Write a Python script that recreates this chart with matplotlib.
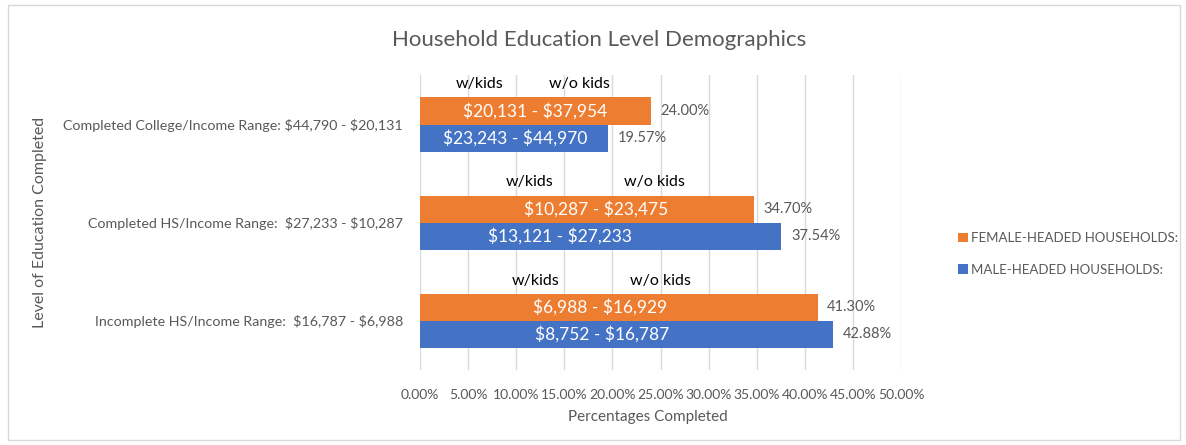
import matplotlib.pyplot as plt
import matplotlib.patches as patches
import numpy as np

plt.rcParams['font.family'] = ['Lato', 'DejaVu Sans']
plt.rcParams['text.parse_math'] = False

# categories listed bottom to top
categories = [
    "Incomplete HS/Income Range:  $16,787 - $6,988",
    "Completed HS/Income Range:  $27,233 - $10,287",
    "Completed College/Income Range: $44,790 - $20,131",
]
female_pct = [41.30, 34.70, 24.00]
male_pct = [42.88, 37.54, 19.57]

# income notes written over the bars
female_notes = ["$6,988 - $16,929", "$10,287 - $23,475", "$20,131 - $37,954"]
male_notes = ["$8,752 - $16,787", "$13,121 - $27,233", "$23,243 - $44,970"]
female_note_x = [18.7, 18.3, 12.0]
male_note_x = [18.9, 14.6, 9.9]
kids_x = [12.0, 11.4, 6.2]
nokids_x = [25.0, 24.4, 16.6]

orange = "#ED7D31"
blue = "#4472C4"
gray = "#595959"

fig = plt.figure(figsize=(11.86, 4.45), dpi=100)
ax = fig.add_axes([0.354, 0.1685, 0.406, 0.662])

y = np.arange(len(categories))
h = 0.276
bf = ax.barh(y + h / 2, female_pct, height=h, color=orange, label="FEMALE-HEADED HOUSEHOLDS:")
bm = ax.barh(y - h / 2, male_pct, height=h, color=blue, label="MALE-HEADED HOUSEHOLDS:")

for bars, vals in ((bf, female_pct), (bm, male_pct)):
    for b, v in zip(bars, vals):
        ax.annotate(f"{v:.2f}%", (v, b.get_y() + b.get_height() / 2),
                    xytext=(7, 0), textcoords="offset points",
                    va="center", ha="left", fontsize=10.5, color=gray)

for i in range(len(categories)):
    ax.text(female_note_x[i], y[i] + h / 2, female_notes[i], color="white",
            fontsize=12.5, ha="center", va="center")
    ax.text(male_note_x[i], y[i] - h / 2, male_notes[i], color="white",
            fontsize=12.5, ha="center", va="center")
    ax.text(kids_x[i], y[i] + 0.41, "w/kids", color="black",
            fontsize=11.5, ha="center", va="center")
    ax.text(nokids_x[i], y[i] + 0.41, "w/o kids", color="black",
            fontsize=11.5, ha="center", va="center")

ax.set_xlim(0, 50)
ax.set_ylim(-0.5, 2.5)
ax.set_xticks(np.arange(0, 51, 5))
ax.set_xticklabels([f"{t:.2f}%" for t in np.arange(0, 51, 5)])
ax.set_yticks(y)
ax.set_yticklabels(categories, fontsize=10.3)
ax.tick_params(length=0, colors=gray)
ax.tick_params(axis="x", pad=14, labelsize=10)
ax.tick_params(axis="y", pad=12)
ax.grid(axis="x", color="#D9D9D9", linewidth=1)
ax.set_axisbelow(True)
for s in ax.spines.values():
    s.set_visible(False)

ax.set_xlabel("Percentages Completed", fontsize=11, color=gray)
ax.xaxis.set_label_coords(0.474, -0.135)
fig.text(0.034, 0.5, "Level of Education Completed", rotation=90,
         fontsize=11.5, color=gray, ha="center", va="center")
fig.text(0.505, 0.91, "Household Education Level Demographics",
         fontsize=16, color=gray, ha="center", va="center")

leg = fig.legend(handles=[bf, bm], loc="center left", bbox_to_anchor=(0.798, 0.43),
                 frameon=False, fontsize=9.5, handlelength=0.7, handleheight=0.7,
                 handletextpad=0.3, labelspacing=1.5)
for t in leg.get_texts():
    t.set_color(gray)

fig.patches.append(patches.Rectangle((0.007, 0.011), 0.988, 0.978, transform=fig.transFigure,
                                     fill=False, edgecolor="#D9D9D9", linewidth=1))

fig.savefig("out.png", dpi=100)
